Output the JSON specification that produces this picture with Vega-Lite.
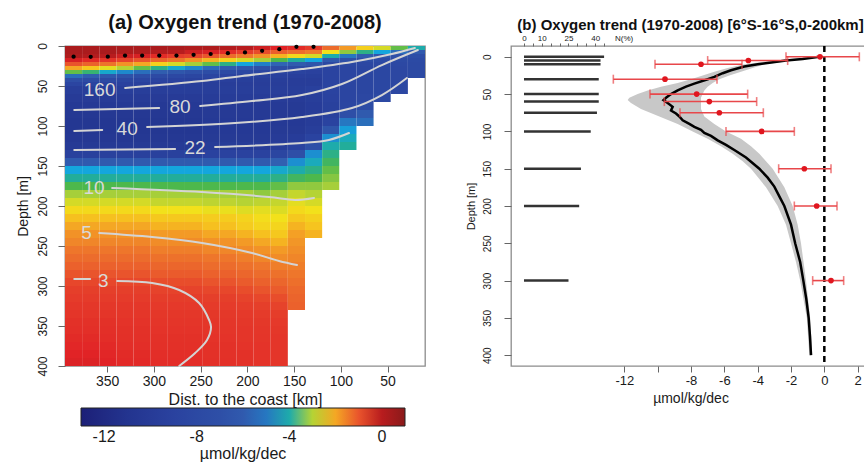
{
"$schema":"https://vega.github.io/schema/vega-lite/v6.json",
"background":"white",
"padding":{"left":15,"top":12,"right":0,"bottom":0},
"spacing":38,
"config":{"font":"Liberation Sans","view":{"stroke":"#8c8c8c","strokeWidth":1.3},"axis":{"domain":false,"grid":false,"tickColor":"#666","tickWidth":1,"labelColor":"#1a1a1a","titleColor":"#1a1a1a","labelFont":"Liberation Sans","titleFont":"Liberation Sans","titleFontWeight":"normal","labelFlush":false,"labelOverlap":false},"title":{"font":"Liberation Sans","color":"#111"}},
"datasets":{
"grid":[
{"d0":395,"d1":376.7,"z0":0,"z1":5,"v":0.3},{"d0":395,"d1":376.7,"z0":5,"z1":10,"v":0.3},{"d0":395,"d1":376.7,"z0":10,"z1":15,"v":0.2},{"d0":395,"d1":376.7,"z0":15,"z1":20,"v":-0.3},{"d0":395,"d1":376.7,"z0":20,"z1":25,"v":-1},{"d0":395,"d1":376.7,"z0":25,"z1":30,"v":-2},{"d0":395,"d1":376.7,"z0":30,"z1":35,"v":-3.4},{"d0":395,"d1":376.7,"z0":35,"z1":40,"v":-5.2},{"d0":395,"d1":376.7,"z0":40,"z1":45,"v":-7.2},{"d0":395,"d1":376.7,"z0":45,"z1":50,"v":-8.6},
{"d0":395,"d1":376.7,"z0":50,"z1":60,"v":-9.6},{"d0":395,"d1":376.7,"z0":60,"z1":70,"v":-10},{"d0":395,"d1":376.7,"z0":70,"z1":80,"v":-10.3},{"d0":395,"d1":376.7,"z0":80,"z1":90,"v":-10.5},{"d0":395,"d1":376.7,"z0":90,"z1":100,"v":-10.6},{"d0":395,"d1":376.7,"z0":100,"z1":110,"v":-10.6},{"d0":395,"d1":376.7,"z0":110,"z1":120,"v":-10.5},{"d0":395,"d1":376.7,"z0":120,"z1":130,"v":-10.2},{"d0":395,"d1":376.7,"z0":130,"z1":140,"v":-9.2},{"d0":395,"d1":376.7,"z0":140,"z1":150,"v":-6},{"d0":395,"d1":376.7,"z0":150,"z1":160,"v":-4.3},{"d0":395,"d1":376.7,"z0":160,"z1":170,"v":-3.9},{"d0":395,"d1":376.7,"z0":170,"z1":180,"v":-3.5},{"d0":395,"d1":376.7,"z0":180,"z1":190,"v":-3.1},{"d0":395,"d1":376.7,"z0":190,"z1":200,"v":-2.8},{"d0":395,"d1":376.7,"z0":200,"z1":210,"v":-2.5},{"d0":395,"d1":376.7,"z0":210,"z1":220,"v":-2.2},{"d0":395,"d1":376.7,"z0":220,"z1":230,"v":-2},{"d0":395,"d1":376.7,"z0":230,"z1":240,"v":-1.8},{"d0":395,"d1":376.7,"z0":240,"z1":250,"v":-1.65},{"d0":395,"d1":376.7,"z0":250,"z1":260,"v":-1.45},{"d0":395,"d1":376.7,"z0":260,"z1":270,"v":-1.3},{"d0":395,"d1":376.7,"z0":270,"z1":280,"v":-1.15},{"d0":395,"d1":376.7,"z0":280,"z1":290,"v":-1},{"d0":395,"d1":376.7,"z0":290,"z1":300,"v":-0.85},{"d0":395,"d1":376.7,"z0":300,"z1":310,"v":-0.75},{"d0":395,"d1":376.7,"z0":310,"z1":320,"v":-0.7},{"d0":395,"d1":376.7,"z0":320,"z1":330,"v":-0.65},{"d0":395,"d1":376.7,"z0":330,"z1":340,"v":-0.62},{"d0":395,"d1":376.7,"z0":340,"z1":350,"v":-0.58},{"d0":395,"d1":376.7,"z0":350,"z1":360,"v":-0.55},{"d0":395,"d1":376.7,"z0":360,"z1":370,"v":-0.5},{"d0":395,"d1":376.7,"z0":370,"z1":380,"v":-0.45},{"d0":395,"d1":376.7,"z0":380,"z1":390,"v":-0.4},{"d0":395,"d1":376.7,"z0":390,"z1":400,"v":-0.35},
{"d0":376.7,"d1":358.3,"z0":0,"z1":5,"v":0.3},{"d0":376.7,"d1":358.3,"z0":5,"z1":10,"v":0.3},{"d0":376.7,"d1":358.3,"z0":10,"z1":15,"v":0.1},{"d0":376.7,"d1":358.3,"z0":15,"z1":20,"v":-0.5},{"d0":376.7,"d1":358.3,"z0":20,"z1":25,"v":-1.2},{"d0":376.7,"d1":358.3,"z0":25,"z1":30,"v":-2.3},{"d0":376.7,"d1":358.3,"z0":30,"z1":35,"v":-3.7},{"d0":376.7,"d1":358.3,"z0":35,"z1":40,"v":-5.8},{"d0":376.7,"d1":358.3,"z0":40,"z1":45,"v":-7.6},{"d0":376.7,"d1":358.3,"z0":45,"z1":50,"v":-8.8},
{"d0":376.7,"d1":358.3,"z0":50,"z1":60,"v":-9.6},{"d0":376.7,"d1":358.3,"z0":60,"z1":70,"v":-10},{"d0":376.7,"d1":358.3,"z0":70,"z1":80,"v":-10.3},{"d0":376.7,"d1":358.3,"z0":80,"z1":90,"v":-10.5},{"d0":376.7,"d1":358.3,"z0":90,"z1":100,"v":-10.6},{"d0":376.7,"d1":358.3,"z0":100,"z1":110,"v":-10.6},{"d0":376.7,"d1":358.3,"z0":110,"z1":120,"v":-10.5},{"d0":376.7,"d1":358.3,"z0":120,"z1":130,"v":-10.2},{"d0":376.7,"d1":358.3,"z0":130,"z1":140,"v":-9.2},{"d0":376.7,"d1":358.3,"z0":140,"z1":150,"v":-6},{"d0":376.7,"d1":358.3,"z0":150,"z1":160,"v":-4.3},{"d0":376.7,"d1":358.3,"z0":160,"z1":170,"v":-3.9},{"d0":376.7,"d1":358.3,"z0":170,"z1":180,"v":-3.5},{"d0":376.7,"d1":358.3,"z0":180,"z1":190,"v":-3.1},{"d0":376.7,"d1":358.3,"z0":190,"z1":200,"v":-2.8},{"d0":376.7,"d1":358.3,"z0":200,"z1":210,"v":-2.5},{"d0":376.7,"d1":358.3,"z0":210,"z1":220,"v":-2.2},{"d0":376.7,"d1":358.3,"z0":220,"z1":230,"v":-2},{"d0":376.7,"d1":358.3,"z0":230,"z1":240,"v":-1.8},{"d0":376.7,"d1":358.3,"z0":240,"z1":250,"v":-1.65},{"d0":376.7,"d1":358.3,"z0":250,"z1":260,"v":-1.45},{"d0":376.7,"d1":358.3,"z0":260,"z1":270,"v":-1.3},{"d0":376.7,"d1":358.3,"z0":270,"z1":280,"v":-1.15},{"d0":376.7,"d1":358.3,"z0":280,"z1":290,"v":-1},{"d0":376.7,"d1":358.3,"z0":290,"z1":300,"v":-0.85},{"d0":376.7,"d1":358.3,"z0":300,"z1":310,"v":-0.75},{"d0":376.7,"d1":358.3,"z0":310,"z1":320,"v":-0.7},{"d0":376.7,"d1":358.3,"z0":320,"z1":330,"v":-0.65},{"d0":376.7,"d1":358.3,"z0":330,"z1":340,"v":-0.62},{"d0":376.7,"d1":358.3,"z0":340,"z1":350,"v":-0.58},{"d0":376.7,"d1":358.3,"z0":350,"z1":360,"v":-0.55},{"d0":376.7,"d1":358.3,"z0":360,"z1":370,"v":-0.5},{"d0":376.7,"d1":358.3,"z0":370,"z1":380,"v":-0.45},{"d0":376.7,"d1":358.3,"z0":380,"z1":390,"v":-0.4},{"d0":376.7,"d1":358.3,"z0":390,"z1":400,"v":-0.35},
{"d0":358.3,"d1":340,"z0":0,"z1":5,"v":0.3},{"d0":358.3,"d1":340,"z0":5,"z1":10,"v":0.3},{"d0":358.3,"d1":340,"z0":10,"z1":15,"v":0},{"d0":358.3,"d1":340,"z0":15,"z1":20,"v":-0.6},{"d0":358.3,"d1":340,"z0":20,"z1":25,"v":-1.4},{"d0":358.3,"d1":340,"z0":25,"z1":30,"v":-2.7},{"d0":358.3,"d1":340,"z0":30,"z1":35,"v":-4.2},{"d0":358.3,"d1":340,"z0":35,"z1":40,"v":-6.3},{"d0":358.3,"d1":340,"z0":40,"z1":45,"v":-8},{"d0":358.3,"d1":340,"z0":45,"z1":50,"v":-9},
{"d0":358.3,"d1":340,"z0":50,"z1":60,"v":-9.6},{"d0":358.3,"d1":340,"z0":60,"z1":70,"v":-10},{"d0":358.3,"d1":340,"z0":70,"z1":80,"v":-10.3},{"d0":358.3,"d1":340,"z0":80,"z1":90,"v":-10.5},{"d0":358.3,"d1":340,"z0":90,"z1":100,"v":-10.6},{"d0":358.3,"d1":340,"z0":100,"z1":110,"v":-10.6},{"d0":358.3,"d1":340,"z0":110,"z1":120,"v":-10.5},{"d0":358.3,"d1":340,"z0":120,"z1":130,"v":-10.2},{"d0":358.3,"d1":340,"z0":130,"z1":140,"v":-9.2},{"d0":358.3,"d1":340,"z0":140,"z1":150,"v":-6},{"d0":358.3,"d1":340,"z0":150,"z1":160,"v":-4.3},{"d0":358.3,"d1":340,"z0":160,"z1":170,"v":-3.9},{"d0":358.3,"d1":340,"z0":170,"z1":180,"v":-3.5},{"d0":358.3,"d1":340,"z0":180,"z1":190,"v":-3.1},{"d0":358.3,"d1":340,"z0":190,"z1":200,"v":-2.8},{"d0":358.3,"d1":340,"z0":200,"z1":210,"v":-2.5},{"d0":358.3,"d1":340,"z0":210,"z1":220,"v":-2.2},{"d0":358.3,"d1":340,"z0":220,"z1":230,"v":-2},{"d0":358.3,"d1":340,"z0":230,"z1":240,"v":-1.8},{"d0":358.3,"d1":340,"z0":240,"z1":250,"v":-1.65},{"d0":358.3,"d1":340,"z0":250,"z1":260,"v":-1.45},{"d0":358.3,"d1":340,"z0":260,"z1":270,"v":-1.3},{"d0":358.3,"d1":340,"z0":270,"z1":280,"v":-1.15},{"d0":358.3,"d1":340,"z0":280,"z1":290,"v":-1},{"d0":358.3,"d1":340,"z0":290,"z1":300,"v":-0.85},{"d0":358.3,"d1":340,"z0":300,"z1":310,"v":-0.75},{"d0":358.3,"d1":340,"z0":310,"z1":320,"v":-0.7},{"d0":358.3,"d1":340,"z0":320,"z1":330,"v":-0.65},{"d0":358.3,"d1":340,"z0":330,"z1":340,"v":-0.62},{"d0":358.3,"d1":340,"z0":340,"z1":350,"v":-0.58},{"d0":358.3,"d1":340,"z0":350,"z1":360,"v":-0.55},{"d0":358.3,"d1":340,"z0":360,"z1":370,"v":-0.52},{"d0":358.3,"d1":340,"z0":370,"z1":380,"v":-0.48},{"d0":358.3,"d1":340,"z0":380,"z1":390,"v":-0.44},{"d0":358.3,"d1":340,"z0":390,"z1":400,"v":-0.4},
{"d0":340,"d1":321.7,"z0":0,"z1":5,"v":0.3},{"d0":340,"d1":321.7,"z0":5,"z1":10,"v":0.2},{"d0":340,"d1":321.7,"z0":10,"z1":15,"v":-0.2},{"d0":340,"d1":321.7,"z0":15,"z1":20,"v":-0.8},{"d0":340,"d1":321.7,"z0":20,"z1":25,"v":-1.8},{"d0":340,"d1":321.7,"z0":25,"z1":30,"v":-3},{"d0":340,"d1":321.7,"z0":30,"z1":35,"v":-4.7},{"d0":340,"d1":321.7,"z0":35,"z1":40,"v":-6.8},{"d0":340,"d1":321.7,"z0":40,"z1":45,"v":-8.4},{"d0":340,"d1":321.7,"z0":45,"z1":50,"v":-9.1},
{"d0":340,"d1":321.7,"z0":50,"z1":60,"v":-9.6},{"d0":340,"d1":321.7,"z0":60,"z1":70,"v":-10},{"d0":340,"d1":321.7,"z0":70,"z1":80,"v":-10.3},{"d0":340,"d1":321.7,"z0":80,"z1":90,"v":-10.5},{"d0":340,"d1":321.7,"z0":90,"z1":100,"v":-10.6},{"d0":340,"d1":321.7,"z0":100,"z1":110,"v":-10.6},{"d0":340,"d1":321.7,"z0":110,"z1":120,"v":-10.5},{"d0":340,"d1":321.7,"z0":120,"z1":130,"v":-10.2},{"d0":340,"d1":321.7,"z0":130,"z1":140,"v":-9.2},{"d0":340,"d1":321.7,"z0":140,"z1":150,"v":-6},{"d0":340,"d1":321.7,"z0":150,"z1":160,"v":-4.3},{"d0":340,"d1":321.7,"z0":160,"z1":170,"v":-3.9},{"d0":340,"d1":321.7,"z0":170,"z1":180,"v":-3.5},{"d0":340,"d1":321.7,"z0":180,"z1":190,"v":-3.1},{"d0":340,"d1":321.7,"z0":190,"z1":200,"v":-2.8},{"d0":340,"d1":321.7,"z0":200,"z1":210,"v":-2.5},{"d0":340,"d1":321.7,"z0":210,"z1":220,"v":-2.2},{"d0":340,"d1":321.7,"z0":220,"z1":230,"v":-2},{"d0":340,"d1":321.7,"z0":230,"z1":240,"v":-1.8},{"d0":340,"d1":321.7,"z0":240,"z1":250,"v":-1.65},{"d0":340,"d1":321.7,"z0":250,"z1":260,"v":-1.45},{"d0":340,"d1":321.7,"z0":260,"z1":270,"v":-1.3},{"d0":340,"d1":321.7,"z0":270,"z1":280,"v":-1.15},{"d0":340,"d1":321.7,"z0":280,"z1":290,"v":-1},{"d0":340,"d1":321.7,"z0":290,"z1":300,"v":-0.85},{"d0":340,"d1":321.7,"z0":300,"z1":310,"v":-0.75},{"d0":340,"d1":321.7,"z0":310,"z1":320,"v":-0.7},{"d0":340,"d1":321.7,"z0":320,"z1":330,"v":-0.65},{"d0":340,"d1":321.7,"z0":330,"z1":340,"v":-0.64},{"d0":340,"d1":321.7,"z0":340,"z1":350,"v":-0.6},{"d0":340,"d1":321.7,"z0":350,"z1":360,"v":-0.58},{"d0":340,"d1":321.7,"z0":360,"z1":370,"v":-0.56},{"d0":340,"d1":321.7,"z0":370,"z1":380,"v":-0.54},{"d0":340,"d1":321.7,"z0":380,"z1":390,"v":-0.5},{"d0":340,"d1":321.7,"z0":390,"z1":400,"v":-0.48},
{"d0":321.7,"d1":303.3,"z0":0,"z1":5,"v":0.3},{"d0":321.7,"d1":303.3,"z0":5,"z1":10,"v":0.2},{"d0":321.7,"d1":303.3,"z0":10,"z1":15,"v":-0.3},{"d0":321.7,"d1":303.3,"z0":15,"z1":20,"v":-1},{"d0":321.7,"d1":303.3,"z0":20,"z1":25,"v":-2},{"d0":321.7,"d1":303.3,"z0":25,"z1":30,"v":-3.4},{"d0":321.7,"d1":303.3,"z0":30,"z1":35,"v":-5.2},{"d0":321.7,"d1":303.3,"z0":35,"z1":40,"v":-7.3},{"d0":321.7,"d1":303.3,"z0":40,"z1":45,"v":-8.6},{"d0":321.7,"d1":303.3,"z0":45,"z1":50,"v":-9.3},
{"d0":321.7,"d1":303.3,"z0":50,"z1":60,"v":-9.6},{"d0":321.7,"d1":303.3,"z0":60,"z1":70,"v":-10},{"d0":321.7,"d1":303.3,"z0":70,"z1":80,"v":-10.3},{"d0":321.7,"d1":303.3,"z0":80,"z1":90,"v":-10.5},{"d0":321.7,"d1":303.3,"z0":90,"z1":100,"v":-10.6},{"d0":321.7,"d1":303.3,"z0":100,"z1":110,"v":-10.6},{"d0":321.7,"d1":303.3,"z0":110,"z1":120,"v":-10.5},{"d0":321.7,"d1":303.3,"z0":120,"z1":130,"v":-10.2},{"d0":321.7,"d1":303.3,"z0":130,"z1":140,"v":-9.2},{"d0":321.7,"d1":303.3,"z0":140,"z1":150,"v":-6},{"d0":321.7,"d1":303.3,"z0":150,"z1":160,"v":-4.3},{"d0":321.7,"d1":303.3,"z0":160,"z1":170,"v":-3.9},{"d0":321.7,"d1":303.3,"z0":170,"z1":180,"v":-3.5},{"d0":321.7,"d1":303.3,"z0":180,"z1":190,"v":-3.1},{"d0":321.7,"d1":303.3,"z0":190,"z1":200,"v":-2.8},{"d0":321.7,"d1":303.3,"z0":200,"z1":210,"v":-2.5},{"d0":321.7,"d1":303.3,"z0":210,"z1":220,"v":-2.2},{"d0":321.7,"d1":303.3,"z0":220,"z1":230,"v":-2},{"d0":321.7,"d1":303.3,"z0":230,"z1":240,"v":-1.8},{"d0":321.7,"d1":303.3,"z0":240,"z1":250,"v":-1.65},{"d0":321.7,"d1":303.3,"z0":250,"z1":260,"v":-1.45},{"d0":321.7,"d1":303.3,"z0":260,"z1":270,"v":-1.3},{"d0":321.7,"d1":303.3,"z0":270,"z1":280,"v":-1.15},{"d0":321.7,"d1":303.3,"z0":280,"z1":290,"v":-1},{"d0":321.7,"d1":303.3,"z0":290,"z1":300,"v":-0.85},{"d0":321.7,"d1":303.3,"z0":300,"z1":310,"v":-0.75},{"d0":321.7,"d1":303.3,"z0":310,"z1":320,"v":-0.7},{"d0":321.7,"d1":303.3,"z0":320,"z1":330,"v":-0.65},{"d0":321.7,"d1":303.3,"z0":330,"z1":340,"v":-0.64},{"d0":321.7,"d1":303.3,"z0":340,"z1":350,"v":-0.6},{"d0":321.7,"d1":303.3,"z0":350,"z1":360,"v":-0.58},{"d0":321.7,"d1":303.3,"z0":360,"z1":370,"v":-0.56},{"d0":321.7,"d1":303.3,"z0":370,"z1":380,"v":-0.54},{"d0":321.7,"d1":303.3,"z0":380,"z1":390,"v":-0.5},{"d0":321.7,"d1":303.3,"z0":390,"z1":400,"v":-0.48},
{"d0":303.3,"d1":285,"z0":0,"z1":5,"v":0.3},{"d0":303.3,"d1":285,"z0":5,"z1":10,"v":0.1},{"d0":303.3,"d1":285,"z0":10,"z1":15,"v":-0.5},{"d0":303.3,"d1":285,"z0":15,"z1":20,"v":-1.2},{"d0":303.3,"d1":285,"z0":20,"z1":25,"v":-2.4},{"d0":303.3,"d1":285,"z0":25,"z1":30,"v":-3.8},{"d0":303.3,"d1":285,"z0":30,"z1":35,"v":-5.8},{"d0":303.3,"d1":285,"z0":35,"z1":40,"v":-7.7},{"d0":303.3,"d1":285,"z0":40,"z1":45,"v":-8.8},{"d0":303.3,"d1":285,"z0":45,"z1":50,"v":-9.4},
{"d0":303.3,"d1":285,"z0":50,"z1":60,"v":-9.6},{"d0":303.3,"d1":285,"z0":60,"z1":70,"v":-10},{"d0":303.3,"d1":285,"z0":70,"z1":80,"v":-10.3},{"d0":303.3,"d1":285,"z0":80,"z1":90,"v":-10.5},{"d0":303.3,"d1":285,"z0":90,"z1":100,"v":-10.6},{"d0":303.3,"d1":285,"z0":100,"z1":110,"v":-10.6},{"d0":303.3,"d1":285,"z0":110,"z1":120,"v":-10.5},{"d0":303.3,"d1":285,"z0":120,"z1":130,"v":-10.2},{"d0":303.3,"d1":285,"z0":130,"z1":140,"v":-9.2},{"d0":303.3,"d1":285,"z0":140,"z1":150,"v":-6},{"d0":303.3,"d1":285,"z0":150,"z1":160,"v":-4.3},{"d0":303.3,"d1":285,"z0":160,"z1":170,"v":-3.9},{"d0":303.3,"d1":285,"z0":170,"z1":180,"v":-3.5},{"d0":303.3,"d1":285,"z0":180,"z1":190,"v":-3.1},{"d0":303.3,"d1":285,"z0":190,"z1":200,"v":-2.9},{"d0":303.3,"d1":285,"z0":200,"z1":210,"v":-2.6},{"d0":303.3,"d1":285,"z0":210,"z1":220,"v":-2.3},{"d0":303.3,"d1":285,"z0":220,"z1":230,"v":-2.1},{"d0":303.3,"d1":285,"z0":230,"z1":240,"v":-1.9},{"d0":303.3,"d1":285,"z0":240,"z1":250,"v":-1.72},{"d0":303.3,"d1":285,"z0":250,"z1":260,"v":-1.55},{"d0":303.3,"d1":285,"z0":260,"z1":270,"v":-1.38},{"d0":303.3,"d1":285,"z0":270,"z1":280,"v":-1.22},{"d0":303.3,"d1":285,"z0":280,"z1":290,"v":-1.08},{"d0":303.3,"d1":285,"z0":290,"z1":300,"v":-0.92},{"d0":303.3,"d1":285,"z0":300,"z1":310,"v":-0.8},{"d0":303.3,"d1":285,"z0":310,"z1":320,"v":-0.72},{"d0":303.3,"d1":285,"z0":320,"z1":330,"v":-0.68},{"d0":303.3,"d1":285,"z0":330,"z1":340,"v":-0.65},{"d0":303.3,"d1":285,"z0":340,"z1":350,"v":-0.62},{"d0":303.3,"d1":285,"z0":350,"z1":360,"v":-0.6},{"d0":303.3,"d1":285,"z0":360,"z1":370,"v":-0.58},{"d0":303.3,"d1":285,"z0":370,"z1":380,"v":-0.56},{"d0":303.3,"d1":285,"z0":380,"z1":390,"v":-0.54},{"d0":303.3,"d1":285,"z0":390,"z1":400,"v":-0.52},
{"d0":285,"d1":266.7,"z0":0,"z1":5,"v":0.3},{"d0":285,"d1":266.7,"z0":5,"z1":10,"v":0},{"d0":285,"d1":266.7,"z0":10,"z1":15,"v":-0.7},{"d0":285,"d1":266.7,"z0":15,"z1":20,"v":-1.4},{"d0":285,"d1":266.7,"z0":20,"z1":25,"v":-2.8},{"d0":285,"d1":266.7,"z0":25,"z1":30,"v":-4.2},{"d0":285,"d1":266.7,"z0":30,"z1":35,"v":-6.4},{"d0":285,"d1":266.7,"z0":35,"z1":40,"v":-8.1},{"d0":285,"d1":266.7,"z0":40,"z1":45,"v":-9},{"d0":285,"d1":266.7,"z0":45,"z1":50,"v":-9.5},
{"d0":285,"d1":266.7,"z0":50,"z1":60,"v":-9.6},{"d0":285,"d1":266.7,"z0":60,"z1":70,"v":-10},{"d0":285,"d1":266.7,"z0":70,"z1":80,"v":-10.3},{"d0":285,"d1":266.7,"z0":80,"z1":90,"v":-10.5},{"d0":285,"d1":266.7,"z0":90,"z1":100,"v":-10.6},{"d0":285,"d1":266.7,"z0":100,"z1":110,"v":-10.6},{"d0":285,"d1":266.7,"z0":110,"z1":120,"v":-10.5},{"d0":285,"d1":266.7,"z0":120,"z1":130,"v":-10.2},{"d0":285,"d1":266.7,"z0":130,"z1":140,"v":-9.2},{"d0":285,"d1":266.7,"z0":140,"z1":150,"v":-6},{"d0":285,"d1":266.7,"z0":150,"z1":160,"v":-4.3},{"d0":285,"d1":266.7,"z0":160,"z1":170,"v":-3.9},{"d0":285,"d1":266.7,"z0":170,"z1":180,"v":-3.5},{"d0":285,"d1":266.7,"z0":180,"z1":190,"v":-3.1},{"d0":285,"d1":266.7,"z0":190,"z1":200,"v":-2.9},{"d0":285,"d1":266.7,"z0":200,"z1":210,"v":-2.6},{"d0":285,"d1":266.7,"z0":210,"z1":220,"v":-2.3},{"d0":285,"d1":266.7,"z0":220,"z1":230,"v":-2.1},{"d0":285,"d1":266.7,"z0":230,"z1":240,"v":-1.9},{"d0":285,"d1":266.7,"z0":240,"z1":250,"v":-1.72},{"d0":285,"d1":266.7,"z0":250,"z1":260,"v":-1.55},{"d0":285,"d1":266.7,"z0":260,"z1":270,"v":-1.38},{"d0":285,"d1":266.7,"z0":270,"z1":280,"v":-1.22},{"d0":285,"d1":266.7,"z0":280,"z1":290,"v":-1.08},{"d0":285,"d1":266.7,"z0":290,"z1":300,"v":-0.92},{"d0":285,"d1":266.7,"z0":300,"z1":310,"v":-0.8},{"d0":285,"d1":266.7,"z0":310,"z1":320,"v":-0.72},{"d0":285,"d1":266.7,"z0":320,"z1":330,"v":-0.68},{"d0":285,"d1":266.7,"z0":330,"z1":340,"v":-0.65},{"d0":285,"d1":266.7,"z0":340,"z1":350,"v":-0.62},{"d0":285,"d1":266.7,"z0":350,"z1":360,"v":-0.6},{"d0":285,"d1":266.7,"z0":360,"z1":370,"v":-0.58},{"d0":285,"d1":266.7,"z0":370,"z1":380,"v":-0.56},{"d0":285,"d1":266.7,"z0":380,"z1":390,"v":-0.54},{"d0":285,"d1":266.7,"z0":390,"z1":400,"v":-0.52},
{"d0":266.7,"d1":248.3,"z0":0,"z1":5,"v":0.2},{"d0":266.7,"d1":248.3,"z0":5,"z1":10,"v":-0.2},{"d0":266.7,"d1":248.3,"z0":10,"z1":15,"v":-0.8},{"d0":266.7,"d1":248.3,"z0":15,"z1":20,"v":-1.8},{"d0":266.7,"d1":248.3,"z0":20,"z1":25,"v":-3.1},{"d0":266.7,"d1":248.3,"z0":25,"z1":30,"v":-4.7},{"d0":266.7,"d1":248.3,"z0":30,"z1":35,"v":-6.9},{"d0":266.7,"d1":248.3,"z0":35,"z1":40,"v":-8.4},{"d0":266.7,"d1":248.3,"z0":40,"z1":45,"v":-9.2},{"d0":266.7,"d1":248.3,"z0":45,"z1":50,"v":-9.6},
{"d0":266.7,"d1":248.3,"z0":50,"z1":60,"v":-9.6},{"d0":266.7,"d1":248.3,"z0":60,"z1":70,"v":-10},{"d0":266.7,"d1":248.3,"z0":70,"z1":80,"v":-10.3},{"d0":266.7,"d1":248.3,"z0":80,"z1":90,"v":-10.5},{"d0":266.7,"d1":248.3,"z0":90,"z1":100,"v":-10.6},{"d0":266.7,"d1":248.3,"z0":100,"z1":110,"v":-10.6},{"d0":266.7,"d1":248.3,"z0":110,"z1":120,"v":-10.5},{"d0":266.7,"d1":248.3,"z0":120,"z1":130,"v":-10.2},{"d0":266.7,"d1":248.3,"z0":130,"z1":140,"v":-9.2},{"d0":266.7,"d1":248.3,"z0":140,"z1":150,"v":-6},{"d0":266.7,"d1":248.3,"z0":150,"z1":160,"v":-4.3},{"d0":266.7,"d1":248.3,"z0":160,"z1":170,"v":-3.9},{"d0":266.7,"d1":248.3,"z0":170,"z1":180,"v":-3.5},{"d0":266.7,"d1":248.3,"z0":180,"z1":190,"v":-3.1},{"d0":266.7,"d1":248.3,"z0":190,"z1":200,"v":-2.9},{"d0":266.7,"d1":248.3,"z0":200,"z1":210,"v":-2.6},{"d0":266.7,"d1":248.3,"z0":210,"z1":220,"v":-2.3},{"d0":266.7,"d1":248.3,"z0":220,"z1":230,"v":-2.1},{"d0":266.7,"d1":248.3,"z0":230,"z1":240,"v":-1.9},{"d0":266.7,"d1":248.3,"z0":240,"z1":250,"v":-1.72},{"d0":266.7,"d1":248.3,"z0":250,"z1":260,"v":-1.55},{"d0":266.7,"d1":248.3,"z0":260,"z1":270,"v":-1.38},{"d0":266.7,"d1":248.3,"z0":270,"z1":280,"v":-1.22},{"d0":266.7,"d1":248.3,"z0":280,"z1":290,"v":-1.08},{"d0":266.7,"d1":248.3,"z0":290,"z1":300,"v":-0.92},{"d0":266.7,"d1":248.3,"z0":300,"z1":310,"v":-0.8},{"d0":266.7,"d1":248.3,"z0":310,"z1":320,"v":-0.72},{"d0":266.7,"d1":248.3,"z0":320,"z1":330,"v":-0.68},{"d0":266.7,"d1":248.3,"z0":330,"z1":340,"v":-0.65},{"d0":266.7,"d1":248.3,"z0":340,"z1":350,"v":-0.62},{"d0":266.7,"d1":248.3,"z0":350,"z1":360,"v":-0.6},{"d0":266.7,"d1":248.3,"z0":360,"z1":370,"v":-0.58},{"d0":266.7,"d1":248.3,"z0":370,"z1":380,"v":-0.56},{"d0":266.7,"d1":248.3,"z0":380,"z1":390,"v":-0.54},{"d0":266.7,"d1":248.3,"z0":390,"z1":400,"v":-0.52},
{"d0":248.3,"d1":230,"z0":0,"z1":5,"v":0.2},{"d0":248.3,"d1":230,"z0":5,"z1":10,"v":-0.3},{"d0":248.3,"d1":230,"z0":10,"z1":15,"v":-1},{"d0":248.3,"d1":230,"z0":15,"z1":20,"v":-2.1},{"d0":248.3,"d1":230,"z0":20,"z1":25,"v":-3.4},{"d0":248.3,"d1":230,"z0":25,"z1":30,"v":-5.3},{"d0":248.3,"d1":230,"z0":30,"z1":35,"v":-7.3},{"d0":248.3,"d1":230,"z0":35,"z1":40,"v":-8.6},{"d0":248.3,"d1":230,"z0":40,"z1":45,"v":-9.3},{"d0":248.3,"d1":230,"z0":45,"z1":50,"v":-9.6},
{"d0":248.3,"d1":230,"z0":50,"z1":60,"v":-9.6},{"d0":248.3,"d1":230,"z0":60,"z1":70,"v":-9.9},{"d0":248.3,"d1":230,"z0":70,"z1":80,"v":-10.1},{"d0":248.3,"d1":230,"z0":80,"z1":90,"v":-10.2},{"d0":248.3,"d1":230,"z0":90,"z1":100,"v":-10.3},{"d0":248.3,"d1":230,"z0":100,"z1":110,"v":-10.3},{"d0":248.3,"d1":230,"z0":110,"z1":120,"v":-10.2},{"d0":248.3,"d1":230,"z0":120,"z1":130,"v":-9.9},{"d0":248.3,"d1":230,"z0":130,"z1":140,"v":-9},{"d0":248.3,"d1":230,"z0":140,"z1":150,"v":-6},{"d0":248.3,"d1":230,"z0":150,"z1":160,"v":-4.3},{"d0":248.3,"d1":230,"z0":160,"z1":170,"v":-3.9},{"d0":248.3,"d1":230,"z0":170,"z1":180,"v":-3.5},{"d0":248.3,"d1":230,"z0":180,"z1":190,"v":-3.1},{"d0":248.3,"d1":230,"z0":190,"z1":200,"v":-2.95},{"d0":248.3,"d1":230,"z0":200,"z1":210,"v":-2.65},{"d0":248.3,"d1":230,"z0":210,"z1":220,"v":-2.35},{"d0":248.3,"d1":230,"z0":220,"z1":230,"v":-2.2},{"d0":248.3,"d1":230,"z0":230,"z1":240,"v":-2},{"d0":248.3,"d1":230,"z0":240,"z1":250,"v":-1.8},{"d0":248.3,"d1":230,"z0":250,"z1":260,"v":-1.65},{"d0":248.3,"d1":230,"z0":260,"z1":270,"v":-1.45},{"d0":248.3,"d1":230,"z0":270,"z1":280,"v":-1.3},{"d0":248.3,"d1":230,"z0":280,"z1":290,"v":-1.15},{"d0":248.3,"d1":230,"z0":290,"z1":300,"v":-1},{"d0":248.3,"d1":230,"z0":300,"z1":310,"v":-0.85},{"d0":248.3,"d1":230,"z0":310,"z1":320,"v":-0.75},{"d0":248.3,"d1":230,"z0":320,"z1":330,"v":-0.7},{"d0":248.3,"d1":230,"z0":330,"z1":340,"v":-0.66},{"d0":248.3,"d1":230,"z0":340,"z1":350,"v":-0.64},{"d0":248.3,"d1":230,"z0":350,"z1":360,"v":-0.62},{"d0":248.3,"d1":230,"z0":360,"z1":370,"v":-0.6},{"d0":248.3,"d1":230,"z0":370,"z1":380,"v":-0.58},{"d0":248.3,"d1":230,"z0":380,"z1":390,"v":-0.57},{"d0":248.3,"d1":230,"z0":390,"z1":400,"v":-0.56},
{"d0":230,"d1":211.7,"z0":0,"z1":5,"v":0.1},{"d0":230,"d1":211.7,"z0":5,"z1":10,"v":-0.5},{"d0":230,"d1":211.7,"z0":10,"z1":15,"v":-1.3},{"d0":230,"d1":211.7,"z0":15,"z1":20,"v":-2.4},{"d0":230,"d1":211.7,"z0":20,"z1":25,"v":-3.8},{"d0":230,"d1":211.7,"z0":25,"z1":30,"v":-5.9},{"d0":230,"d1":211.7,"z0":30,"z1":35,"v":-7.8},{"d0":230,"d1":211.7,"z0":35,"z1":40,"v":-8.8},{"d0":230,"d1":211.7,"z0":40,"z1":45,"v":-9.4},{"d0":230,"d1":211.7,"z0":45,"z1":50,"v":-9.7},
{"d0":230,"d1":211.7,"z0":50,"z1":60,"v":-9.6},{"d0":230,"d1":211.7,"z0":60,"z1":70,"v":-9.9},{"d0":230,"d1":211.7,"z0":70,"z1":80,"v":-10.1},{"d0":230,"d1":211.7,"z0":80,"z1":90,"v":-10.2},{"d0":230,"d1":211.7,"z0":90,"z1":100,"v":-10.3},{"d0":230,"d1":211.7,"z0":100,"z1":110,"v":-10.3},{"d0":230,"d1":211.7,"z0":110,"z1":120,"v":-10.2},{"d0":230,"d1":211.7,"z0":120,"z1":130,"v":-9.9},{"d0":230,"d1":211.7,"z0":130,"z1":140,"v":-9},{"d0":230,"d1":211.7,"z0":140,"z1":150,"v":-6},{"d0":230,"d1":211.7,"z0":150,"z1":160,"v":-4.3},{"d0":230,"d1":211.7,"z0":160,"z1":170,"v":-3.9},{"d0":230,"d1":211.7,"z0":170,"z1":180,"v":-3.5},{"d0":230,"d1":211.7,"z0":180,"z1":190,"v":-3.1},{"d0":230,"d1":211.7,"z0":190,"z1":200,"v":-2.95},{"d0":230,"d1":211.7,"z0":200,"z1":210,"v":-2.65},{"d0":230,"d1":211.7,"z0":210,"z1":220,"v":-2.35},{"d0":230,"d1":211.7,"z0":220,"z1":230,"v":-2.2},{"d0":230,"d1":211.7,"z0":230,"z1":240,"v":-2},{"d0":230,"d1":211.7,"z0":240,"z1":250,"v":-1.8},{"d0":230,"d1":211.7,"z0":250,"z1":260,"v":-1.65},{"d0":230,"d1":211.7,"z0":260,"z1":270,"v":-1.45},{"d0":230,"d1":211.7,"z0":270,"z1":280,"v":-1.3},{"d0":230,"d1":211.7,"z0":280,"z1":290,"v":-1.15},{"d0":230,"d1":211.7,"z0":290,"z1":300,"v":-1},{"d0":230,"d1":211.7,"z0":300,"z1":310,"v":-0.85},{"d0":230,"d1":211.7,"z0":310,"z1":320,"v":-0.75},{"d0":230,"d1":211.7,"z0":320,"z1":330,"v":-0.7},{"d0":230,"d1":211.7,"z0":330,"z1":340,"v":-0.66},{"d0":230,"d1":211.7,"z0":340,"z1":350,"v":-0.64},{"d0":230,"d1":211.7,"z0":350,"z1":360,"v":-0.62},{"d0":230,"d1":211.7,"z0":360,"z1":370,"v":-0.6},{"d0":230,"d1":211.7,"z0":370,"z1":380,"v":-0.58},{"d0":230,"d1":211.7,"z0":380,"z1":390,"v":-0.57},{"d0":230,"d1":211.7,"z0":390,"z1":400,"v":-0.56},
{"d0":211.7,"d1":193.3,"z0":0,"z1":5,"v":0},{"d0":211.7,"d1":193.3,"z0":5,"z1":10,"v":-0.7},{"d0":211.7,"d1":193.3,"z0":10,"z1":15,"v":-1.5},{"d0":211.7,"d1":193.3,"z0":15,"z1":20,"v":-2.8},{"d0":211.7,"d1":193.3,"z0":20,"z1":25,"v":-4.3},{"d0":211.7,"d1":193.3,"z0":25,"z1":30,"v":-6.4},{"d0":211.7,"d1":193.3,"z0":30,"z1":35,"v":-8.1},{"d0":211.7,"d1":193.3,"z0":35,"z1":40,"v":-9},{"d0":211.7,"d1":193.3,"z0":40,"z1":45,"v":-9.5},{"d0":211.7,"d1":193.3,"z0":45,"z1":50,"v":-9.7},
{"d0":211.7,"d1":193.3,"z0":50,"z1":60,"v":-9.6},{"d0":211.7,"d1":193.3,"z0":60,"z1":70,"v":-9.9},{"d0":211.7,"d1":193.3,"z0":70,"z1":80,"v":-10.1},{"d0":211.7,"d1":193.3,"z0":80,"z1":90,"v":-10.2},{"d0":211.7,"d1":193.3,"z0":90,"z1":100,"v":-10.3},{"d0":211.7,"d1":193.3,"z0":100,"z1":110,"v":-10.3},{"d0":211.7,"d1":193.3,"z0":110,"z1":120,"v":-10.2},{"d0":211.7,"d1":193.3,"z0":120,"z1":130,"v":-9.9},{"d0":211.7,"d1":193.3,"z0":130,"z1":140,"v":-9},{"d0":211.7,"d1":193.3,"z0":140,"z1":150,"v":-6},{"d0":211.7,"d1":193.3,"z0":150,"z1":160,"v":-4.3},{"d0":211.7,"d1":193.3,"z0":160,"z1":170,"v":-3.9},{"d0":211.7,"d1":193.3,"z0":170,"z1":180,"v":-3.5},{"d0":211.7,"d1":193.3,"z0":180,"z1":190,"v":-3.1},{"d0":211.7,"d1":193.3,"z0":190,"z1":200,"v":-3},{"d0":211.7,"d1":193.3,"z0":200,"z1":210,"v":-2.73},{"d0":211.7,"d1":193.3,"z0":210,"z1":220,"v":-2.43},{"d0":211.7,"d1":193.3,"z0":220,"z1":230,"v":-2.35},{"d0":211.7,"d1":193.3,"z0":230,"z1":240,"v":-2.1},{"d0":211.7,"d1":193.3,"z0":240,"z1":250,"v":-1.9},{"d0":211.7,"d1":193.3,"z0":250,"z1":260,"v":-1.72},{"d0":211.7,"d1":193.3,"z0":260,"z1":270,"v":-1.55},{"d0":211.7,"d1":193.3,"z0":270,"z1":280,"v":-1.38},{"d0":211.7,"d1":193.3,"z0":280,"z1":290,"v":-1.22},{"d0":211.7,"d1":193.3,"z0":290,"z1":300,"v":-1.08},{"d0":211.7,"d1":193.3,"z0":300,"z1":310,"v":-0.92},{"d0":211.7,"d1":193.3,"z0":310,"z1":320,"v":-0.8},{"d0":211.7,"d1":193.3,"z0":320,"z1":330,"v":-0.72},{"d0":211.7,"d1":193.3,"z0":330,"z1":340,"v":-0.68},{"d0":211.7,"d1":193.3,"z0":340,"z1":350,"v":-0.65},{"d0":211.7,"d1":193.3,"z0":350,"z1":360,"v":-0.63},{"d0":211.7,"d1":193.3,"z0":360,"z1":370,"v":-0.62},{"d0":211.7,"d1":193.3,"z0":370,"z1":380,"v":-0.6},{"d0":211.7,"d1":193.3,"z0":380,"z1":390,"v":-0.58},{"d0":211.7,"d1":193.3,"z0":390,"z1":400,"v":-0.57},
{"d0":193.3,"d1":175,"z0":0,"z1":5,"v":-0.2},{"d0":193.3,"d1":175,"z0":5,"z1":10,"v":-0.9},{"d0":193.3,"d1":175,"z0":10,"z1":15,"v":-1.8},{"d0":193.3,"d1":175,"z0":15,"z1":20,"v":-3.1},{"d0":193.3,"d1":175,"z0":20,"z1":25,"v":-4.8},{"d0":193.3,"d1":175,"z0":25,"z1":30,"v":-6.9},{"d0":193.3,"d1":175,"z0":30,"z1":35,"v":-8.4},{"d0":193.3,"d1":175,"z0":35,"z1":40,"v":-9.2},{"d0":193.3,"d1":175,"z0":40,"z1":45,"v":-9.6},{"d0":193.3,"d1":175,"z0":45,"z1":50,"v":-9.7},
{"d0":193.3,"d1":175,"z0":50,"z1":60,"v":-9.6},{"d0":193.3,"d1":175,"z0":60,"z1":70,"v":-9.9},{"d0":193.3,"d1":175,"z0":70,"z1":80,"v":-10.1},{"d0":193.3,"d1":175,"z0":80,"z1":90,"v":-10.2},{"d0":193.3,"d1":175,"z0":90,"z1":100,"v":-10.3},{"d0":193.3,"d1":175,"z0":100,"z1":110,"v":-10.3},{"d0":193.3,"d1":175,"z0":110,"z1":120,"v":-10.2},{"d0":193.3,"d1":175,"z0":120,"z1":130,"v":-9.9},{"d0":193.3,"d1":175,"z0":130,"z1":140,"v":-9},{"d0":193.3,"d1":175,"z0":140,"z1":150,"v":-6},{"d0":193.3,"d1":175,"z0":150,"z1":160,"v":-4.3},{"d0":193.3,"d1":175,"z0":160,"z1":170,"v":-3.9},{"d0":193.3,"d1":175,"z0":170,"z1":180,"v":-3.5},{"d0":193.3,"d1":175,"z0":180,"z1":190,"v":-3.2},{"d0":193.3,"d1":175,"z0":190,"z1":200,"v":-2.95},{"d0":193.3,"d1":175,"z0":200,"z1":210,"v":-2.7},{"d0":193.3,"d1":175,"z0":210,"z1":220,"v":-2.55},{"d0":193.3,"d1":175,"z0":220,"z1":230,"v":-2.45},{"d0":193.3,"d1":175,"z0":230,"z1":240,"v":-2.2},{"d0":193.3,"d1":175,"z0":240,"z1":250,"v":-2},{"d0":193.3,"d1":175,"z0":250,"z1":260,"v":-1.8},{"d0":193.3,"d1":175,"z0":260,"z1":270,"v":-1.65},{"d0":193.3,"d1":175,"z0":270,"z1":280,"v":-1.45},{"d0":193.3,"d1":175,"z0":280,"z1":290,"v":-1.3},{"d0":193.3,"d1":175,"z0":290,"z1":300,"v":-1.15},{"d0":193.3,"d1":175,"z0":300,"z1":310,"v":-1},{"d0":193.3,"d1":175,"z0":310,"z1":320,"v":-0.85},{"d0":193.3,"d1":175,"z0":320,"z1":330,"v":-0.75},{"d0":193.3,"d1":175,"z0":330,"z1":340,"v":-0.7},{"d0":193.3,"d1":175,"z0":340,"z1":350,"v":-0.66},{"d0":193.3,"d1":175,"z0":350,"z1":360,"v":-0.64},{"d0":193.3,"d1":175,"z0":360,"z1":370,"v":-0.62},{"d0":193.3,"d1":175,"z0":370,"z1":380,"v":-0.6},{"d0":193.3,"d1":175,"z0":380,"z1":390,"v":-0.6},{"d0":193.3,"d1":175,"z0":390,"z1":400,"v":-0.6},
{"d0":175,"d1":156.7,"z0":0,"z1":5,"v":-0.4},{"d0":175,"d1":156.7,"z0":5,"z1":10,"v":-1.1},{"d0":175,"d1":156.7,"z0":10,"z1":15,"v":-2.1},{"d0":175,"d1":156.7,"z0":15,"z1":20,"v":-3.5},{"d0":175,"d1":156.7,"z0":20,"z1":25,"v":-5.4},{"d0":175,"d1":156.7,"z0":25,"z1":30,"v":-7.4},{"d0":175,"d1":156.7,"z0":30,"z1":35,"v":-8.7},{"d0":175,"d1":156.7,"z0":35,"z1":40,"v":-9.3},{"d0":175,"d1":156.7,"z0":40,"z1":45,"v":-9.6},{"d0":175,"d1":156.7,"z0":45,"z1":50,"v":-9.7},
{"d0":175,"d1":156.7,"z0":50,"z1":60,"v":-9.6},{"d0":175,"d1":156.7,"z0":60,"z1":70,"v":-9.9},{"d0":175,"d1":156.7,"z0":70,"z1":80,"v":-10.1},{"d0":175,"d1":156.7,"z0":80,"z1":90,"v":-10.2},{"d0":175,"d1":156.7,"z0":90,"z1":100,"v":-10.3},{"d0":175,"d1":156.7,"z0":100,"z1":110,"v":-10.2},{"d0":175,"d1":156.7,"z0":110,"z1":120,"v":-10},{"d0":175,"d1":156.7,"z0":120,"z1":130,"v":-9.6},{"d0":175,"d1":156.7,"z0":130,"z1":140,"v":-8.4},{"d0":175,"d1":156.7,"z0":140,"z1":150,"v":-5.5},{"d0":175,"d1":156.7,"z0":150,"z1":160,"v":-4.2},{"d0":175,"d1":156.7,"z0":160,"z1":170,"v":-3.8},{"d0":175,"d1":156.7,"z0":170,"z1":180,"v":-3.4},{"d0":175,"d1":156.7,"z0":180,"z1":190,"v":-3.1},{"d0":175,"d1":156.7,"z0":190,"z1":200,"v":-2.9},{"d0":175,"d1":156.7,"z0":200,"z1":210,"v":-2.75},{"d0":175,"d1":156.7,"z0":210,"z1":220,"v":-2.6},{"d0":175,"d1":156.7,"z0":220,"z1":230,"v":-2.45},{"d0":175,"d1":156.7,"z0":230,"z1":240,"v":-2.3},{"d0":175,"d1":156.7,"z0":240,"z1":250,"v":-2.1},{"d0":175,"d1":156.7,"z0":250,"z1":260,"v":-1.9},{"d0":175,"d1":156.7,"z0":260,"z1":270,"v":-1.72},{"d0":175,"d1":156.7,"z0":270,"z1":280,"v":-1.55},{"d0":175,"d1":156.7,"z0":280,"z1":290,"v":-1.38},{"d0":175,"d1":156.7,"z0":290,"z1":300,"v":-1.22},{"d0":175,"d1":156.7,"z0":300,"z1":310,"v":-1.08},{"d0":175,"d1":156.7,"z0":310,"z1":320,"v":-0.92},{"d0":175,"d1":156.7,"z0":320,"z1":330,"v":-0.8},{"d0":175,"d1":156.7,"z0":330,"z1":340,"v":-0.72},{"d0":175,"d1":156.7,"z0":340,"z1":350,"v":-0.68},{"d0":175,"d1":156.7,"z0":350,"z1":360,"v":-0.65},{"d0":175,"d1":156.7,"z0":360,"z1":370,"v":-0.63},{"d0":175,"d1":156.7,"z0":370,"z1":380,"v":-0.62},{"d0":175,"d1":156.7,"z0":380,"z1":390,"v":-0.62},{"d0":175,"d1":156.7,"z0":390,"z1":400,"v":-0.62},
{"d0":156.7,"d1":138.3,"z0":0,"z1":5,"v":-0.5},{"d0":156.7,"d1":138.3,"z0":5,"z1":10,"v":-1.3},{"d0":156.7,"d1":138.3,"z0":10,"z1":15,"v":-2.5},{"d0":156.7,"d1":138.3,"z0":15,"z1":20,"v":-3.9},{"d0":156.7,"d1":138.3,"z0":20,"z1":25,"v":-5.9},{"d0":156.7,"d1":138.3,"z0":25,"z1":30,"v":-7.8},{"d0":156.7,"d1":138.3,"z0":30,"z1":35,"v":-8.9},{"d0":156.7,"d1":138.3,"z0":35,"z1":40,"v":-9.4},{"d0":156.7,"d1":138.3,"z0":40,"z1":45,"v":-9.7},{"d0":156.7,"d1":138.3,"z0":45,"z1":50,"v":-9.7},
{"d0":156.7,"d1":138.3,"z0":50,"z1":60,"v":-9.6},{"d0":156.7,"d1":138.3,"z0":60,"z1":70,"v":-10},{"d0":156.7,"d1":138.3,"z0":70,"z1":80,"v":-10.2},{"d0":156.7,"d1":138.3,"z0":80,"z1":90,"v":-10.3},{"d0":156.7,"d1":138.3,"z0":90,"z1":100,"v":-10.3},{"d0":156.7,"d1":138.3,"z0":100,"z1":110,"v":-10.2},{"d0":156.7,"d1":138.3,"z0":110,"z1":120,"v":-9.8},{"d0":156.7,"d1":138.3,"z0":120,"z1":130,"v":-9},{"d0":156.7,"d1":138.3,"z0":130,"z1":140,"v":-7},{"d0":156.7,"d1":138.3,"z0":140,"z1":150,"v":-4.6},{"d0":156.7,"d1":138.3,"z0":150,"z1":160,"v":-4},{"d0":156.7,"d1":138.3,"z0":160,"z1":170,"v":-3.6},{"d0":156.7,"d1":138.3,"z0":170,"z1":180,"v":-3.2},{"d0":156.7,"d1":138.3,"z0":180,"z1":190,"v":-2.9},{"d0":156.7,"d1":138.3,"z0":190,"z1":200,"v":-2.7},{"d0":156.7,"d1":138.3,"z0":200,"z1":210,"v":-2.5},{"d0":156.7,"d1":138.3,"z0":210,"z1":220,"v":-2.3},{"d0":156.7,"d1":138.3,"z0":220,"z1":230,"v":-2.1},{"d0":156.7,"d1":138.3,"z0":230,"z1":240,"v":-1.95},{"d0":156.7,"d1":138.3,"z0":240,"z1":250,"v":-1.85},{"d0":156.7,"d1":138.3,"z0":250,"z1":260,"v":-1.75},{"d0":156.7,"d1":138.3,"z0":260,"z1":270,"v":-1.65},{"d0":156.7,"d1":138.3,"z0":270,"z1":280,"v":-1.55},{"d0":156.7,"d1":138.3,"z0":280,"z1":290,"v":-1.45},{"d0":156.7,"d1":138.3,"z0":290,"z1":300,"v":-1.35},{"d0":156.7,"d1":138.3,"z0":300,"z1":310,"v":-1.25},{"d0":156.7,"d1":138.3,"z0":310,"z1":320,"v":-1.2},{"d0":156.7,"d1":138.3,"z0":320,"z1":330,"v":-1.15},
{"d0":138.3,"d1":120,"z0":0,"z1":5,"v":-0.7},{"d0":138.3,"d1":120,"z0":5,"z1":10,"v":-1.5},{"d0":138.3,"d1":120,"z0":10,"z1":15,"v":-2.8},{"d0":138.3,"d1":120,"z0":15,"z1":20,"v":-4.3},{"d0":138.3,"d1":120,"z0":20,"z1":25,"v":-6.5},{"d0":138.3,"d1":120,"z0":25,"z1":30,"v":-8.2},{"d0":138.3,"d1":120,"z0":30,"z1":35,"v":-9.1},{"d0":138.3,"d1":120,"z0":35,"z1":40,"v":-9.5},{"d0":138.3,"d1":120,"z0":40,"z1":45,"v":-9.7},{"d0":138.3,"d1":120,"z0":45,"z1":50,"v":-9.7},
{"d0":138.3,"d1":120,"z0":50,"z1":60,"v":-9.3},{"d0":138.3,"d1":120,"z0":60,"z1":70,"v":-9.6},{"d0":138.3,"d1":120,"z0":70,"z1":80,"v":-9.8},{"d0":138.3,"d1":120,"z0":80,"z1":90,"v":-9.9},{"d0":138.3,"d1":120,"z0":90,"z1":100,"v":-9.9},{"d0":138.3,"d1":120,"z0":100,"z1":110,"v":-9.6},{"d0":138.3,"d1":120,"z0":110,"z1":120,"v":-8.8},{"d0":138.3,"d1":120,"z0":120,"z1":130,"v":-7},{"d0":138.3,"d1":120,"z0":130,"z1":140,"v":-4.6},{"d0":138.3,"d1":120,"z0":140,"z1":150,"v":-4.1},{"d0":138.3,"d1":120,"z0":150,"z1":160,"v":-3.8},{"d0":138.3,"d1":120,"z0":160,"z1":170,"v":-3.5},{"d0":138.3,"d1":120,"z0":170,"z1":180,"v":-3.2},{"d0":138.3,"d1":120,"z0":180,"z1":190,"v":-3},{"d0":138.3,"d1":120,"z0":190,"z1":200,"v":-2.8},{"d0":138.3,"d1":120,"z0":200,"z1":210,"v":-2.6},{"d0":138.3,"d1":120,"z0":210,"z1":220,"v":-2.4},{"d0":138.3,"d1":120,"z0":220,"z1":230,"v":-2.25},{"d0":138.3,"d1":120,"z0":230,"z1":240,"v":-2.1},
{"d0":120,"d1":101.7,"z0":0,"z1":5,"v":-1.3},{"d0":120,"d1":101.7,"z0":5,"z1":10,"v":-2.6},{"d0":120,"d1":101.7,"z0":10,"z1":15,"v":-4},{"d0":120,"d1":101.7,"z0":15,"z1":20,"v":-6.1},{"d0":120,"d1":101.7,"z0":20,"z1":25,"v":-7.9},{"d0":120,"d1":101.7,"z0":25,"z1":30,"v":-8.6},{"d0":120,"d1":101.7,"z0":30,"z1":35,"v":-8.8},{"d0":120,"d1":101.7,"z0":35,"z1":40,"v":-8.8},{"d0":120,"d1":101.7,"z0":40,"z1":45,"v":-8.8},{"d0":120,"d1":101.7,"z0":45,"z1":50,"v":-8.8},
{"d0":120,"d1":101.7,"z0":50,"z1":60,"v":-8.8},{"d0":120,"d1":101.7,"z0":60,"z1":70,"v":-9},{"d0":120,"d1":101.7,"z0":70,"z1":80,"v":-9.2},{"d0":120,"d1":101.7,"z0":80,"z1":90,"v":-9.2},{"d0":120,"d1":101.7,"z0":90,"z1":100,"v":-8.8},{"d0":120,"d1":101.7,"z0":100,"z1":110,"v":-6.5},{"d0":120,"d1":101.7,"z0":110,"z1":120,"v":-4.6},{"d0":120,"d1":101.7,"z0":120,"z1":130,"v":-4},{"d0":120,"d1":101.7,"z0":130,"z1":140,"v":-3.8},{"d0":120,"d1":101.7,"z0":140,"z1":150,"v":-3.6},{"d0":120,"d1":101.7,"z0":150,"z1":160,"v":-3.4},{"d0":120,"d1":101.7,"z0":160,"z1":170,"v":-3.25},{"d0":120,"d1":101.7,"z0":170,"z1":180,"v":-3.1},
{"d0":101.7,"d1":83.3,"z0":0,"z1":5,"v":-1.9},{"d0":101.7,"d1":83.3,"z0":5,"z1":10,"v":-3.2},{"d0":101.7,"d1":83.3,"z0":10,"z1":15,"v":-5},{"d0":101.7,"d1":83.3,"z0":15,"z1":20,"v":-7},{"d0":101.7,"d1":83.3,"z0":20,"z1":25,"v":-8.3},{"d0":101.7,"d1":83.3,"z0":25,"z1":30,"v":-8.6},{"d0":101.7,"d1":83.3,"z0":30,"z1":35,"v":-8.6},{"d0":101.7,"d1":83.3,"z0":35,"z1":40,"v":-8.6},{"d0":101.7,"d1":83.3,"z0":40,"z1":45,"v":-8.6},{"d0":101.7,"d1":83.3,"z0":45,"z1":50,"v":-8.6},
{"d0":101.7,"d1":83.3,"z0":50,"z1":60,"v":-8.6},{"d0":101.7,"d1":83.3,"z0":60,"z1":70,"v":-8.6},{"d0":101.7,"d1":83.3,"z0":70,"z1":80,"v":-8.4},{"d0":101.7,"d1":83.3,"z0":80,"z1":90,"v":-7},{"d0":101.7,"d1":83.3,"z0":90,"z1":100,"v":-5},{"d0":101.7,"d1":83.3,"z0":100,"z1":110,"v":-4.4},{"d0":101.7,"d1":83.3,"z0":110,"z1":120,"v":-4.1},{"d0":101.7,"d1":83.3,"z0":120,"z1":130,"v":-3.9},
{"d0":83.3,"d1":65,"z0":0,"z1":5,"v":-2.4},{"d0":83.3,"d1":65,"z0":5,"z1":10,"v":-3.8},{"d0":83.3,"d1":65,"z0":10,"z1":15,"v":-5.9},{"d0":83.3,"d1":65,"z0":15,"z1":20,"v":-7.5},{"d0":83.3,"d1":65,"z0":20,"z1":25,"v":-8.2},{"d0":83.3,"d1":65,"z0":25,"z1":30,"v":-8.4},{"d0":83.3,"d1":65,"z0":30,"z1":35,"v":-8.4},{"d0":83.3,"d1":65,"z0":35,"z1":40,"v":-8.4},{"d0":83.3,"d1":65,"z0":40,"z1":45,"v":-8.4},{"d0":83.3,"d1":65,"z0":45,"z1":50,"v":-8.4},
{"d0":83.3,"d1":65,"z0":50,"z1":60,"v":-8.4},{"d0":83.3,"d1":65,"z0":60,"z1":70,"v":-8.2},{"d0":83.3,"d1":65,"z0":70,"z1":80,"v":-7.5},{"d0":83.3,"d1":65,"z0":80,"z1":90,"v":-6},{"d0":83.3,"d1":65,"z0":90,"z1":100,"v":-5.2},
{"d0":65,"d1":46.7,"z0":0,"z1":5,"v":-2.8},{"d0":65,"d1":46.7,"z0":5,"z1":10,"v":-4.3},{"d0":65,"d1":46.7,"z0":10,"z1":15,"v":-6.5},{"d0":65,"d1":46.7,"z0":15,"z1":20,"v":-7.6},{"d0":65,"d1":46.7,"z0":20,"z1":25,"v":-8.1},{"d0":65,"d1":46.7,"z0":25,"z1":30,"v":-8.3},{"d0":65,"d1":46.7,"z0":30,"z1":35,"v":-8.3},{"d0":65,"d1":46.7,"z0":35,"z1":40,"v":-8.3},{"d0":65,"d1":46.7,"z0":40,"z1":45,"v":-8.3},{"d0":65,"d1":46.7,"z0":45,"z1":50,"v":-8.3},
{"d0":65,"d1":46.7,"z0":50,"z1":60,"v":-8.3},{"d0":65,"d1":46.7,"z0":60,"z1":70,"v":-8},
{"d0":46.7,"d1":28.3,"z0":0,"z1":5,"v":-3.4},{"d0":46.7,"d1":28.3,"z0":5,"z1":10,"v":-5.2},{"d0":46.7,"d1":28.3,"z0":10,"z1":15,"v":-7},{"d0":46.7,"d1":28.3,"z0":15,"z1":20,"v":-7.8},{"d0":46.7,"d1":28.3,"z0":20,"z1":25,"v":-8.1},{"d0":46.7,"d1":28.3,"z0":25,"z1":30,"v":-8.2},{"d0":46.7,"d1":28.3,"z0":30,"z1":35,"v":-8.2},{"d0":46.7,"d1":28.3,"z0":35,"z1":40,"v":-8.2},{"d0":46.7,"d1":28.3,"z0":40,"z1":45,"v":-8.2},{"d0":46.7,"d1":28.3,"z0":45,"z1":50,"v":-8.2},
{"d0":46.7,"d1":28.3,"z0":50,"z1":60,"v":-8.2},
{"d0":28.3,"d1":10,"z0":0,"z1":5,"v":-4},{"d0":28.3,"d1":10,"z0":5,"z1":10,"v":-6.1},{"d0":28.3,"d1":10,"z0":10,"z1":15,"v":-7.3},{"d0":28.3,"d1":10,"z0":15,"z1":20,"v":-7.8},{"d0":28.3,"d1":10,"z0":20,"z1":25,"v":-8},{"d0":28.3,"d1":10,"z0":25,"z1":30,"v":-8},{"d0":28.3,"d1":10,"z0":30,"z1":35,"v":-8},{"d0":28.3,"d1":10,"z0":35,"z1":40,"v":-8}
],
"contours":[
{"k":"160","o":1,"d":330.7,"z":52.5},{"k":"160","o":2,"d":248.4,"z":43.8},{"k":"160","o":3,"d":205.7,"z":37.5},{"k":"160","o":4,"d":141.6,"z":28.8},{"k":"160","o":5,"d":88.1,"z":20},{"k":"160","o":6,"d":45.4,"z":10},{"k":"160","o":7,"d":20.8,"z":2.5},
{"k":"80a","o":1,"d":385.1,"z":80},{"k":"80a","o":2,"d":294.3,"z":77.5},
{"k":"80b","o":1,"d":250.5,"z":75},{"k":"80b","o":2,"d":195,"z":68.8},{"k":"80b","o":3,"d":141.6,"z":61.3},{"k":"80b","o":4,"d":98.8,"z":47.5},{"k":"80b","o":5,"d":56.1,"z":23.8},{"k":"80b","o":6,"d":17.6,"z":5},
{"k":"40a","o":1,"d":385.1,"z":106.3},{"k":"40a","o":2,"d":355.2,"z":105},
{"k":"40b","o":1,"d":307.2,"z":101.3},{"k":"40b","o":2,"d":213.1,"z":96.3},{"k":"40b","o":3,"d":141.6,"z":88.8},{"k":"40b","o":4,"d":88.1,"z":77.5},{"k":"40b","o":5,"d":56.1,"z":61.3},{"k":"40b","o":6,"d":29.4,"z":40},
{"k":"22a","o":1,"d":385.1,"z":130},{"k":"22a","o":2,"d":277.2,"z":128.8},
{"k":"22b","o":1,"d":234.5,"z":126.3},{"k":"22b","o":2,"d":141.6,"z":121.3},{"k":"22b","o":3,"d":112.7,"z":117.5},{"k":"22b","o":4,"d":91.3,"z":108.8},
{"k":"10","o":1,"d":344.6,"z":177.5},{"k":"10","o":2,"d":248.4,"z":182.5},{"k":"10","o":3,"d":176.8,"z":188.8},{"k":"10","o":4,"d":149,"z":192.5},{"k":"10","o":5,"d":128.7,"z":190},
{"k":"5","o":1,"d":358.4,"z":233.8},{"k":"5","o":2,"d":301.8,"z":238.8},{"k":"5","o":3,"d":248.4,"z":246.3},{"k":"5","o":4,"d":195,"z":258.8},{"k":"5","o":5,"d":166.1,"z":268.8},{"k":"5","o":6,"d":146.9,"z":273.8},
{"k":"3a","o":1,"d":385.1,"z":291.3},{"k":"3a","o":2,"d":368.1,"z":291.3},
{"k":"3b","o":1,"d":339.2,"z":293.8},{"k":"3b","o":2,"d":301.8,"z":296.3},{"k":"3b","o":3,"d":272.9,"z":305},{"k":"3b","o":4,"d":251.6,"z":321.3},{"k":"3b","o":5,"d":240.9,"z":342.5},{"k":"3b","o":6,"d":238.8,"z":351.3},{"k":"3b","o":7,"d":243.1,"z":367.5},{"k":"3b","o":8,"d":255.8,"z":383.8},{"k":"3b","o":9,"d":272.9,"z":400}
],
"clabels":[{"t":"160","d":358,"z":55},{"t":"80","d":272,"z":76},{"t":"40","d":328.5,"z":104},{"t":"22","d":256,"z":127.5},{"t":"10","d":364,"z":177.5},{"t":"5","d":372,"z":234},{"t":"3","d":354,"z":294}],
"dots":[{"d":385.8,"z":13.3},{"d":367.5,"z":13.5},{"d":349.2,"z":13.3},{"d":330.8,"z":12},{"d":312.5,"z":12},{"d":294.2,"z":12},{"d":275.8,"z":12},{"d":257.5,"z":11},{"d":239.2,"z":10},{"d":220.8,"z":9},{"d":202.5,"z":8},{"d":184.2,"z":6},{"d":165.8,"z":4},{"d":147.5,"z":1},{"d":129.2,"z":1}],
"npct":[{"z":0,"n":45},{"z":5,"n":43},{"z":10,"n":43},{"z":30,"n":42},{"z":50,"n":42},{"z":60,"n":42},{"z":75,"n":41},{"z":100,"n":37.5},{"z":150,"n":32},{"z":200,"n":31},{"z":300,"n":25}],
"ciband":[{"z":0,"lo":-0.6,"hi":0},{"z":5,"lo":-3,"hi":-1.9},{"z":10,"lo":-4.8,"hi":-3.6},{"z":15,"lo":-5.8,"hi":-4.3},{"z":20,"lo":-6.6,"hi":-5},{"z":25,"lo":-7.3,"hi":-5.7},{"z":30,"lo":-8,"hi":-6.3},{"z":35,"lo":-8.8,"hi":-6.7},{"z":40,"lo":-9.8,"hi":-7},{"z":45,"lo":-10.6,"hi":-7.2},{"z":50,"lo":-11.2,"hi":-7.3},{"z":55,"lo":-11.7,"hi":-7.4},{"z":58,"lo":-11.8,"hi":-7.4},{"z":62,"lo":-11.6,"hi":-7.4},{"z":70,"lo":-11,"hi":-7.4},{"z":80,"lo":-9.9,"hi":-7.2},{"z":90,"lo":-8.8,"hi":-6.6},{"z":100,"lo":-7.9,"hi":-5.9},{"z":110,"lo":-7,"hi":-5},{"z":120,"lo":-6.2,"hi":-4.4},{"z":130,"lo":-5.5,"hi":-3.9},{"z":140,"lo":-4.9,"hi":-3.5},{"z":150,"lo":-4.4,"hi":-3.1},{"z":175,"lo":-3.5,"hi":-2.4},{"z":200,"lo":-2.8,"hi":-1.9},{"z":225,"lo":-2.3,"hi":-1.6},{"z":250,"lo":-2,"hi":-1.4},{"z":275,"lo":-1.7,"hi":-1.25},{"z":300,"lo":-1.45,"hi":-1.1},{"z":350,"lo":-1.05,"hi":-0.85},{"z":400,"lo":-0.9,"hi":-0.72}],
"prof":[{"z":0,"v":-0.3},{"z":3,"v":-1.3},{"z":5,"v":-2.3},{"z":8,"v":-3.3},{"z":10,"v":-4},{"z":13,"v":-4.8},{"z":18,"v":-5.6},{"z":22,"v":-6.1},{"z":27,"v":-6.6},{"z":30,"v":-7},{"z":36,"v":-7.8},{"z":40,"v":-8.3},{"z":45,"v":-8.8},{"z":50,"v":-9.2},{"z":55,"v":-9.5},{"z":58,"v":-9.65},{"z":62,"v":-9.4},{"z":67,"v":-9.1},{"z":72,"v":-9.2},{"z":76,"v":-8.9},{"z":80,"v":-8.7},{"z":85,"v":-8.5},{"z":90,"v":-8.1},{"z":94,"v":-7.8},{"z":98,"v":-7.4},{"z":102,"v":-7.2},{"z":106,"v":-6.8},{"z":112,"v":-6.4},{"z":118,"v":-5.9},{"z":125,"v":-5.4},{"z":135,"v":-4.7},{"z":150,"v":-3.9},{"z":162,"v":-3.4},{"z":174,"v":-3},{"z":187,"v":-2.7},{"z":200,"v":-2.4},{"z":225,"v":-2},{"z":250,"v":-1.75},{"z":275,"v":-1.45},{"z":300,"v":-1.26},{"z":325,"v":-1.08},{"z":350,"v":-0.94},{"z":375,"v":-0.86},{"z":400,"v":-0.8}],
"obs":[{"z":0,"v":-0.26,"lo":-2.3,"hi":2.1},{"z":5,"v":-4.56,"lo":-7,"hi":-2.2},{"z":10,"v":-7.4,"lo":-10.16,"hi":-4.94},{"z":30,"v":-9.56,"lo":-12.66,"hi":-6.44},{"z":50,"v":-7.66,"lo":-10.46,"hi":-4.6},{"z":60,"v":-6.9,"lo":-9.6,"hi":-4.06},{"z":75,"v":-6.3,"lo":-8.66,"hi":-3.66},{"z":100,"v":-3.76,"lo":-5.9,"hi":-1.8},{"z":150,"v":-1.2,"lo":-2.74,"hi":0.4},{"z":200,"v":-0.46,"lo":-1.8,"hi":0.76},{"z":300,"v":0.4,"lo":-0.7,"hi":1.16}]
},
"hconcat":[
{
"width":360,"height":320,
"title":{"text":"(a) Oxygen trend (1970-2008)","fontSize":20,"fontWeight":"bold","frame":"group","anchor":"middle","offset":10},
"layer":[
{"data":{"name":"grid"},"mark":{"type":"rect"},
"encoding":{
"x":{"field":"d0","type":"quantitative","scale":{"domain":[10,395],"reverse":true,"nice":false,"zero":false},"axis":{"title":"Dist. to the coast [km]","values":[50,100,150,200,250,300,350],"tickSize":6,"labelPadding":2,"labelFontSize":14,"titleFontSize":16,"titlePadding":3}},
"x2":{"field":"d1"},
"y":{"field":"z0","type":"quantitative","scale":{"domain":[0,400],"reverse":true,"nice":false,"zero":false},"axis":{"title":"Depth [m]","values":[0,50,100,150,200,250,300,350,400],"tickCount":9,"labelAngle":-90,"labelAlign":"center","labelBaseline":"bottom","labelOverlap":false,"labelSeparation":-40,"tickSize":7,"labelPadding":9,"labelFontSize":12,"titleFontSize":14,"titlePadding":6}},
"y2":{"field":"z1"},
"color":{"field":"v","type":"quantitative","scale":{"domain":[-13,-11,-9,-7,-5.5,-4.8,-4.3,-3.9,-3.5,-3.1,-2.6,-2.2,-1.9,-1.5,-1.1,-0.8,-0.4,0,1],"range":["#1c1f77","#23348f","#2a429f","#2e4fa7","#3160b1","#2180c8","#14a6dd","#22ad9a","#4db84c","#a6cf3a","#f2e11b","#f6c01f","#f39a26","#ee7a2b","#ea5d2c","#e6432b","#e12326","#b81c1e","#8a1a1a"],"interpolate":"rgb"},
"legend":{"type":"gradient","orient":"none","legendX":16,"legendY":362,"direction":"horizontal","gradientLength":324,"gradientThickness":18,"title":"µmol/kg/dec","titleOrient":"bottom","titleAnchor":"middle","titleFontSize":16,"titleFontWeight":"normal","titleColor":"#1a1a1a","titlePadding":1,"labelFontSize":16,"labelColor":"#1a1a1a","labelOffset":3,"labelOverlap":false,"values":[-12,-8,-4,0],"labelExpr":"'' + datum.value","gradientStrokeColor":"#222","gradientStrokeWidth":1,"padding":0}}
}},
{"data":{"name":"contours"},"mark":{"type":"line","color":"#d4d4d4","strokeWidth":2,"interpolate":"catmull-rom","strokeCap":"round"},
"encoding":{"x":{"field":"d","type":"quantitative","scale":{"domain":[10,395],"reverse":true,"nice":false,"zero":false}},"y":{"field":"z","type":"quantitative","scale":{"domain":[0,400],"reverse":true,"nice":false,"zero":false}},"detail":{"field":"k"},"order":{"field":"o"}}},
{"data":{"name":"clabels"},"mark":{"type":"text","color":"#d9d9d9","fontSize":19,"align":"center","baseline":"middle"},
"encoding":{"x":{"field":"d","type":"quantitative","scale":{"domain":[10,395],"reverse":true,"nice":false,"zero":false}},"y":{"field":"z","type":"quantitative","scale":{"domain":[0,400],"reverse":true,"nice":false,"zero":false}},"text":{"field":"t"}}},
{"data":{"name":"dots"},"mark":{"type":"point","filled":true,"color":"#000","size":18,"opacity":1},
"encoding":{"x":{"field":"d","type":"quantitative","scale":{"domain":[10,395],"reverse":true,"nice":false,"zero":false}},"y":{"field":"z","type":"quantitative","scale":{"domain":[0,400],"reverse":true,"nice":false,"zero":false}}}}
]
},
{
"width":359,"height":320,
"title":{"text":"(b) Oxygen trend (1970-2008) [6°S-16°S,0-200km]","fontSize":15,"fontWeight":"bold","frame":"group","anchor":"middle","offset":1},
"layer":[
{"data":{"name":"npct"},"mark":{"type":"rule","color":"#333","strokeWidth":2.5},
"encoding":{
"x":{"field":"n","type":"quantitative","scale":{"domain":[-7.3,194.4],"nice":false,"zero":false},"axis":{"orient":"top","title":null,"values":[0,5,10,15,20,25,30,35,40,45,56],"labelExpr":"datum.value == 56 ? 'N(%)' : (indexof([0,10,25,40], datum.value) >= 0 ? '' + datum.value : '')","tickSize":3,"labelPadding":1,"labelFontSize":8,"labelOverlap":false,"tickOpacity":{"condition":{"test":"datum.value == 56","value":0},"value":1}}},
"x2":{"datum":0},
"y":{"field":"z","type":"quantitative","scale":{"domain":[-14.5,414.5],"reverse":true,"nice":false,"zero":false},"axis":{"title":"Depth [m]","values":[0,50,100,150,200,250,300,350,400],"tickCount":9,"labelAngle":-90,"labelAlign":"center","labelBaseline":"bottom","labelOverlap":false,"labelSeparation":-40,"tickSize":7,"labelPadding":12,"labelFontSize":10,"titleFontSize":11,"titlePadding":6}}
}},
{"layer":[
{"data":{"name":"ciband"},"mark":{"type":"area","orient":"horizontal","color":"#c8c8c8","opacity":1},
"encoding":{"y":{"field":"z","type":"quantitative","scale":{"domain":[-14.5,414.5],"reverse":true,"nice":false,"zero":false}},
"x":{"field":"lo","type":"quantitative","scale":{"domain":[-18.8,2.74],"nice":false,"zero":false},"axis":{"title":"µmol/kg/dec","values":[-12,-10,-8,-6,-4,-2,0,2],"labelExpr":"datum.value == -10 ? '' : '' + datum.value","tickSize":6,"labelPadding":2,"labelFontSize":13,"titleFontSize":14,"titlePadding":4,"labelOverlap":false}},
"x2":{"field":"hi"}}},
{"data":{"name":"prof"},"mark":{"type":"line","color":"#000","strokeWidth":2.5},
"encoding":{"y":{"field":"z","type":"quantitative","scale":{"domain":[-14.5,414.5],"reverse":true,"nice":false,"zero":false}},"x":{"field":"v","type":"quantitative","scale":{"domain":[-18.8,2.74],"nice":false,"zero":false}},"order":{"field":"z"}}},
{"data":{"values":[{}]},"mark":{"type":"rule","color":"#000","strokeWidth":2.5,"strokeDash":[6,4]},
"encoding":{"x":{"datum":0,"type":"quantitative","scale":{"domain":[-18.8,2.74],"nice":false,"zero":false}}}},
{"data":{"name":"obs"},"mark":{"type":"rule","color":"#e8474a","strokeWidth":1.6},
"encoding":{"y":{"field":"z","type":"quantitative","scale":{"domain":[-14.5,414.5],"reverse":true,"nice":false,"zero":false}},"x":{"field":"lo","type":"quantitative","scale":{"domain":[-18.8,2.74],"nice":false,"zero":false}},"x2":{"field":"hi"}}},
{"data":{"name":"obs"},"mark":{"type":"tick","orient":"vertical","color":"#e8474a","size":9,"thickness":1.6},
"encoding":{"y":{"field":"z","type":"quantitative","scale":{"domain":[-14.5,414.5],"reverse":true,"nice":false,"zero":false}},"x":{"field":"lo","type":"quantitative","scale":{"domain":[-18.8,2.74],"nice":false,"zero":false}}}},
{"data":{"name":"obs"},"mark":{"type":"tick","orient":"vertical","color":"#e8474a","size":9,"thickness":1.6},
"encoding":{"y":{"field":"z","type":"quantitative","scale":{"domain":[-14.5,414.5],"reverse":true,"nice":false,"zero":false}},"x":{"field":"hi","type":"quantitative","scale":{"domain":[-18.8,2.74],"nice":false,"zero":false}}}},
{"data":{"name":"obs"},"mark":{"type":"point","filled":true,"color":"#e0161f","size":32,"opacity":1},
"encoding":{"y":{"field":"z","type":"quantitative","scale":{"domain":[-14.5,414.5],"reverse":true,"nice":false,"zero":false}},"x":{"field":"v","type":"quantitative","scale":{"domain":[-18.8,2.74],"nice":false,"zero":false}}}}
]}
],
"resolve":{"scale":{"x":"independent"},"axis":{"x":"independent"}}
}
]
}
